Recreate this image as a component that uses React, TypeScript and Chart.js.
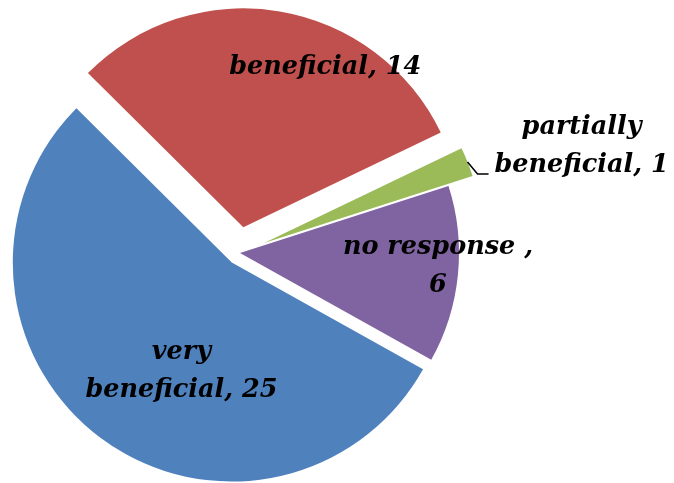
import React, { useEffect, useRef } from "react";
import { Chart, registerables } from "chart.js";

Chart.register(...registerables);

// ---- data ----
const categories = ["beneficial", "partially beneficial", "no response ", "very beneficial"];
const values = [14, 1, 6, 25];
const colors = ["#C0504D", "#9BBB59", "#8064A2", "#4F81BD"];

// ---- presentation ----
const explodeDist = [26, 27, 1, 12];
// label placement: fraction along the slice angle, fraction of radius, words before line break
const labelFrac = [0.66, 0.5, 0.46, 0.438];
const labelRadial = [0.82, 1, 0.906, 0.547];
const labelBreak = [0, 1, 3, 1];
const labelOutside = [false, true, false, false];

const FONT = 'italic bold 25.5px "DejaVu Serif"';
const LINE_H = 38;

const explodePlugin = {
  id: "explode",
  afterDatasetUpdate(chart: any, args: any) {
    args.meta.data.forEach((el: any, i: number) => {
      if (el.__wrapped) return;
      const proto = Object.getPrototypeOf(el);
      el.draw = function (ctx: CanvasRenderingContext2D, area: any) {
        const d = explodeDist[i] || 0;
        const mid = (this.startAngle + this.endAngle) / 2;
        ctx.save();
        ctx.translate(Math.cos(mid) * d, Math.sin(mid) * d);
        proto.draw.call(this, ctx, area);
        ctx.restore();
      };
      el.__wrapped = true;
    });
  },
};

const labelPlugin = {
  id: "sliceLabels",
  afterDatasetsDraw(chart: any) {
    const ctx: CanvasRenderingContext2D = chart.ctx;
    const meta = chart.getDatasetMeta(0);
    ctx.save();
    ctx.font = FONT;
    ctx.fillStyle = "#000000";
    ctx.textAlign = "center";
    ctx.textBaseline = "middle";
    meta.data.forEach((el: any, i: number) => {
      const d = explodeDist[i] || 0;
      const mid = (el.startAngle + el.endAngle) / 2;
      const vx = el.x + Math.cos(mid) * d;
      const vy = el.y + Math.sin(mid) * d;
      const words = `${categories[i]}, ${values[i]}`.split(" ").filter((w) => w.length);
      const br = labelBreak[i];
      const lines = br > 0 ? [words.slice(0, br).join(" "), words.slice(br).join(" ")] : [words.join(" ")];
      if (labelOutside[i]) {
        const a = el.startAngle + (el.endAngle - el.startAngle) * labelFrac[i];
        const sx = vx + Math.cos(a) * el.outerRadius;
        const sy = vy + Math.sin(a) * el.outerRadius;
        const ex = sx + 10;
        const ey = sy + 12;
        const fx = ex + 11;
        ctx.strokeStyle = "#000000";
        ctx.lineWidth = 1.5;
        ctx.beginPath();
        ctx.moveTo(sx, sy);
        ctx.lineTo(ex, ey);
        ctx.lineTo(fx, ey);
        ctx.stroke();
        const cx = fx + 93;
        const top = ey - 9 - LINE_H * (lines.length - 1);
        lines.forEach((ln, k) => ctx.fillText(ln, cx, top + k * LINE_H));
      } else {
        const a = el.startAngle + (el.endAngle - el.startAngle) * labelFrac[i];
        const r = el.outerRadius * labelRadial[i];
        const cx = vx + Math.cos(a) * r;
        const cy = vy + Math.sin(a) * r;
        const top = cy - (LINE_H * (lines.length - 1)) / 2;
        lines.forEach((ln, k) => ctx.fillText(ln, cx, top + k * LINE_H));
      }
    });
    ctx.restore();
  },
};

export default function App() {
  const ref = useRef<HTMLCanvasElement>(null);
  useEffect(() => {
    if (!ref.current) return;
    const chart = new Chart(ref.current, {
      type: "pie",
      data: {
        labels: categories,
        datasets: [
          {
            data: values,
            backgroundColor: colors,
            borderWidth: 0,
            clip: false as any,
          },
        ],
      },
      options: {
        responsive: false,
        animation: false,
        rotation: -45.2,
        radius: 219,
        layout: { padding: { left: 0, right: 196, top: 23, bottom: 0 } },
        plugins: {
          legend: { display: false },
          tooltip: { enabled: false },
          title: { display: false },
        },
      },
      plugins: [explodePlugin, labelPlugin],
    });
    return () => chart.destroy();
  }, []);
  return (
    <div style={{ position: "absolute", left: 0, top: 0, width: 674, height: 483, background: "#ffffff" }}>
      <canvas ref={ref} width={674} height={483} style={{ display: "block" }} />
    </div>
  );
}
